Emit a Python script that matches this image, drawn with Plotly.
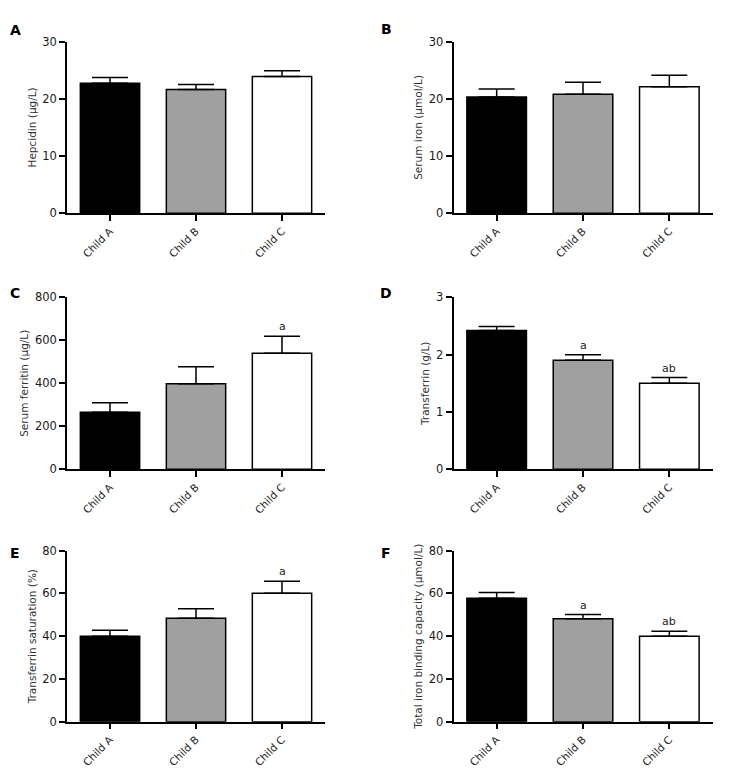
import plotly.graph_objects as go

categories = ["Child A", "Child B", "Child C"]

hepcidin = [22.7, 21.6, 23.9]
hepcidin_err = [1.0, 0.9, 1.0]

serum_iron = [20.3, 20.8, 22.1]
serum_iron_err = [1.4, 2.1, 2.0]

ferritin = [265, 398, 540]
ferritin_err = [45, 79, 79]

transferrin = [2.42, 1.90, 1.50]
transferrin_err = [0.07, 0.10, 0.10]

saturation = [40.0, 48.4, 60.1]
saturation_err = [2.8, 4.5, 5.6]

tibc = [57.7, 48.2, 40.0]
tibc_err = [2.7, 1.9, 2.3]

panels = [
    ("A", "Hepcidin (μg/L)", hepcidin, hepcidin_err, 30, 10, ["", "", ""]),
    ("B", "Serum iron (μmol/L)", serum_iron, serum_iron_err, 30, 10, ["", "", ""]),
    ("C", "Serum ferritin (μg/L)", ferritin, ferritin_err, 800, 200, ["", "", "a"]),
    ("D", "Transferrin (g/L)", transferrin, transferrin_err, 3, 1, ["", "a", "ab"]),
    ("E", "Transferrin saturation (%)", saturation, saturation_err, 80, 20, ["", "", "a"]),
    ("F", "Total iron binding capacity (μmol/L)", tibc, tibc_err, 80, 20, ["", "a", "ab"]),
]

bar_colors = ["#000000", "#a0a0a0", "#ffffff"]

# page body has an 8px margin; convert screenshot pixels to paper fractions
OFF = 8
W, H = 744 - OFF, 773 - OFF


def px(p):
    return (p - OFF) / W


def py(p):
    return 1 - (p - OFF) / H


col_x = [(px(67), px(325)), (px(453.5), px(712.5))]
row_y = [
    (py(213.3), py(41.5)),
    (py(469.3), py(297.3)),
    (py(721.7), py(550.7)),
]
letter_pos = [(15, 30), (386, 29), (15, 293), (386, 293), (15, 553), (386, 553)]

font_family = "DejaVu Sans, Verdana, sans-serif"
fig = go.Figure()
layout = dict(
    width=W, height=H,
    margin=dict(l=0, r=0, t=0, b=0),
    paper_bgcolor="white", plot_bgcolor="white",
    showlegend=False,
    font=dict(family=font_family, color="#222222"),
    annotations=[],
)

for i, (letter, ytitle, vals, errs, ymax, dtick, sig) in enumerate(panels):
    r, c = divmod(i, 2)
    n = i + 1
    xa = "x" if n == 1 else f"x{n}"
    ya = "y" if n == 1 else f"y{n}"
    fig.add_trace(go.Bar(
        x=categories, y=vals,
        xaxis=xa, yaxis=ya,
        width=0.69,
        marker=dict(color=bar_colors, line=dict(color="black", width=1.5)),
        error_y=dict(type="data", symmetric=False, array=errs,
                     arrayminus=[0, 0, 0], color="black", thickness=1.5, width=18),
    ))
    xkey = "xaxis" if n == 1 else f"xaxis{n}"
    ykey = "yaxis" if n == 1 else f"yaxis{n}"
    layout[xkey] = dict(
        domain=list(col_x[c]), anchor=ya, range=[-0.5, 2.5],
        showline=True, linecolor="black", linewidth=1.5,
        ticks="outside", ticklen=6, tickwidth=1.5, tickcolor="black",
        tickangle=-45, tickfont=dict(size=10.5, color="#222222"),
        showgrid=False, zeroline=False, fixedrange=True, automargin=False,
    )
    layout[ykey] = dict(
        domain=list(row_y[r]), anchor=xa, range=[0, ymax], dtick=dtick,
        showline=True, linecolor="black", linewidth=1.5,
        ticks="outside", ticklen=6, tickwidth=1.5, tickcolor="black",
        tickfont=dict(size=11.5, color="#1a1a1a"),
        showgrid=False, zeroline=False, automargin=False,
        title=dict(text=ytitle, font=dict(size=10.5, color="#333333"), standoff=4),
    )
    for j, s in enumerate(sig):
        if s:
            layout["annotations"].append(dict(
                x=categories[j], y=vals[j] + errs[j], xref=xa, yref=ya,
                text=s, showarrow=False, yanchor="bottom", yshift=1,
                font=dict(size=11, color="#222222"),
            ))
    lx, ly = letter_pos[i]
    layout["annotations"].append(dict(
        x=px(lx), y=py(ly), xref="paper", yref="paper",
        text=f"<b>{letter}</b>", showarrow=False, xanchor="center", yanchor="middle",
        font=dict(size=14, color="black"),
    ))

fig.update_layout(**layout)
fig.write_html("out.html")
